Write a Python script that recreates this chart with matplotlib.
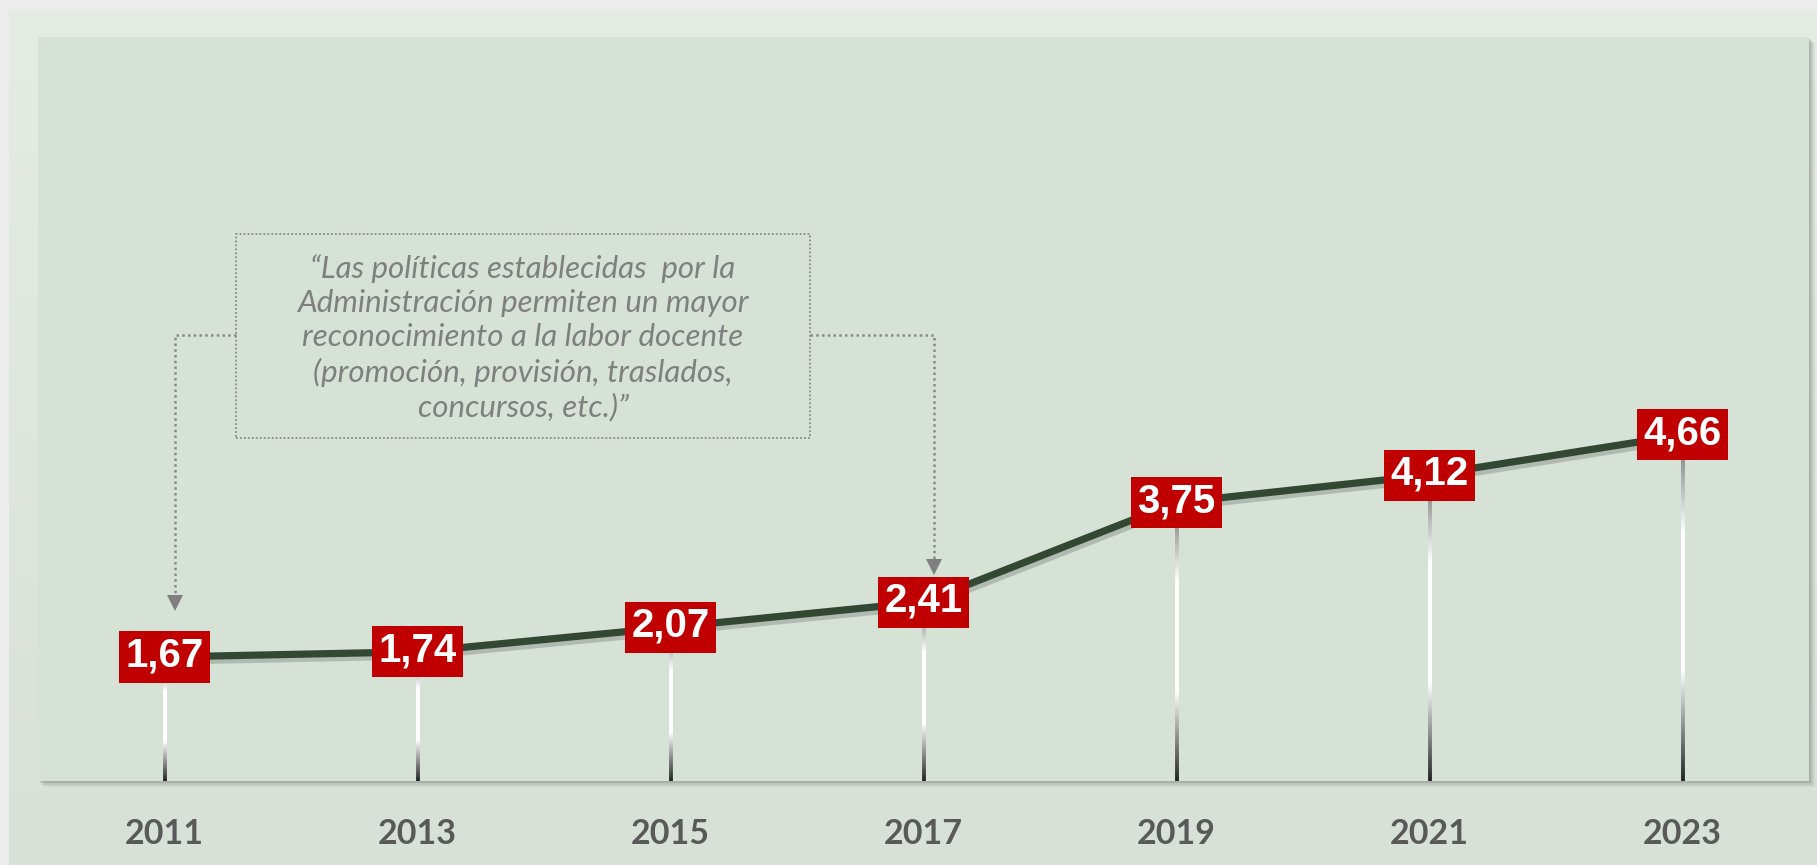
import matplotlib
matplotlib.use("Agg")
import matplotlib.pyplot as plt
import matplotlib.patheffects as pe
from matplotlib.patches import Rectangle
from matplotlib.collections import LineCollection
from matplotlib.colors import LinearSegmentedColormap
import numpy as np

# data
years = ["2011", "2013", "2015", "2017", "2019", "2021", "2023"]
values = [1.67, 1.74, 2.07, 2.41, 3.75, 4.12, 4.66]
labels = ["1,67", "1,74", "2,07", "2,41", "3,75", "4,12", "4,66"]

quote = ("\u201cLas políticas establecidas  por la\n"
         "Administración permiten un mayor\n"
         "reconocimiento a la labor docente\n"
         "(promoción, provisión, traslados,\n"
         "concursos, etc.)\u201d")
quote_targets = [0, 3]  # the two points the quote box points at

W, H = 1817, 865
fig = plt.figure(figsize=(W / 100, H / 100), dpi=100)
fig.patch.set_facecolor("#ececec")

# outer panel with a soft vertical gradient
bg = fig.add_axes([9 / W, 0, (W - 9) / W, (H - 9) / H])
grad = np.linspace(0, 1, 256).reshape(-1, 1)
bg_cmap = LinearSegmentedColormap.from_list("bg", ["#e4ece4", "#d8e1d8"])
bg.imshow(grad, aspect="auto", cmap=bg_cmap, extent=[0, 1, 0, 1], origin="upper")
bg.set_axis_off()

# plot area
left, right, top, bottom = 38, 1809, 37, 781
ax_pos = [left / W, (H - bottom) / H, (right - left) / W, (bottom - top) / H]

# shadow of the plot area
for k, a in [(6, 0.10), (4, 0.18), (2, 0.25)]:
    fig.patches.append(Rectangle((ax_pos[0] + k / W, ax_pos[1] - k / H), ax_pos[2], ax_pos[3],
                                 transform=fig.transFigure, facecolor="#6f756f", alpha=a,
                                 edgecolor="none", zorder=0.5))

ax = fig.add_axes(ax_pos)
ax.set_facecolor("#d7e2d7")
ax.set_zorder(1)
x = np.arange(len(years))
ax.set_xlim(-0.5, len(years) - 0.5)
ax.set_ylim(0, 10.02)
for s in ax.spines.values():
    s.set_visible(False)
ax.set_yticks([])
ax.set_xticks(x)
ax.set_xticklabels(years, fontsize=24.5, fontweight="bold", color="#595959", family="Lato")
ax.tick_params(axis="x", length=0, pad=27)

# drop lines with gray-white-dark gradient
drop_cmap = LinearSegmentedColormap.from_list(
    "drop", [(0, "#6e6e6e"), (0.28, "#ffffff"), (0.68, "#ffffff"), (1, "#262626")])
for xi, v in zip(x, values):
    ys = np.linspace(v, 0, 150)
    segs = [[(xi, ys[j]), (xi, ys[j + 1])] for j in range(len(ys) - 1)]
    lc = LineCollection(segs, colors=drop_cmap(np.linspace(0, 1, len(segs))),
                        linewidths=2.8, zorder=2, capstyle="butt")
    ax.add_collection(lc)

# main line with a soft shadow
ax.plot(x, values, color="#334833", lw=5.2, zorder=3, solid_capstyle="round",
        path_effects=[pe.SimpleLineShadow(offset=(1.5, -3), shadow_color="#5a5f5a", alpha=0.3),
                      pe.Normal()])

# value labels in red boxes
bw, bh = 91 / 253, 51 / 74.25
for xi, v, lab in zip(x, values, labels):
    ax.add_patch(Rectangle((xi - bw / 2, v - bh / 2), bw, bh, facecolor="#c00000",
                           edgecolor="none", zorder=4))
    ax.text(xi, v + 0.02, lab, ha="center", va="center", fontsize=29, fontweight="bold",
            color="white", family="Liberation Sans", zorder=5)

# quote box
qx0, qx1, qy0, qy1 = 0.281, 2.553, 4.62, 7.37
ax.add_patch(Rectangle((qx0, qy0), qx1 - qx0, qy1 - qy0, facecolor="none",
                       edgecolor="#8a8a8a", lw=1.3, ls=(0, (1, 1.2)), zorder=2))
ax.text((qx0 + qx1) / 2, (qy0 + qy1) / 2 - 0.03, quote, ha="center", va="center",
        fontsize=22.5, style="italic", color="#7f7f7f", family="Lato",
        linespacing=1.26, zorder=2)

# dotted connectors with arrow heads
conn_y = 6.01
for t, side_x, gap in [(quote_targets[0], qx0, 0.63), (quote_targets[1], qx1, 0.37)]:
    ax_x = x[t] + 0.043
    tip = values[t] + gap
    ax.plot([side_x, ax_x, ax_x], [conn_y, conn_y, tip + 0.15], color="#8a8a8a",
            lw=1.8, ls=(0, (1, 1.3)), zorder=2)
    ax.plot([ax_x], [tip + 0.1], marker="v", markersize=11, color="#7f7f7f",
            markeredgewidth=0, zorder=2)

fig.savefig("out.png", dpi=100, facecolor=fig.get_facecolor())
